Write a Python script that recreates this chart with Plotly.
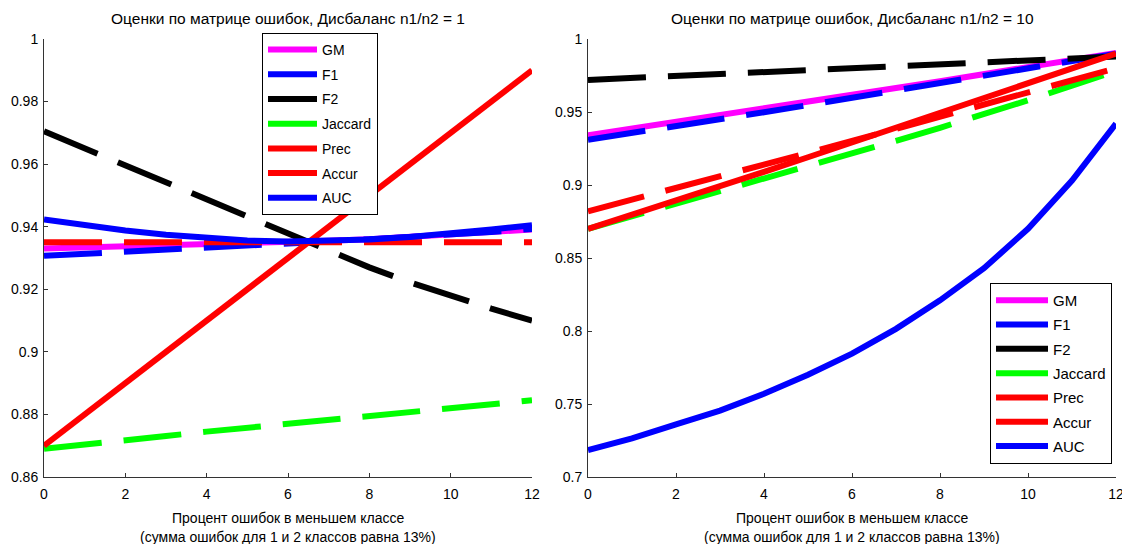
import plotly.graph_objects as go

x = list(range(13))
names = ["GM", "F1", "F2", "Jaccard", "Prec", "Accur", "AUC"]
colors = ["#FF00FF", "#0000FF", "#000000", "#00FF00", "#FF0000", "#FF0000", "#0000FF"]
dashed = [False, True, True, True, False, True, False]

# Left panel: imbalance n1/n2 = 1
left_gm = [0.9330, 0.9333, 0.9337, 0.9340, 0.9343, 0.9347, 0.9350, 0.9355, 0.9360, 0.9367, 0.9374, 0.9382, 0.9391]
left_f1 = [0.9307, 0.9313, 0.9320, 0.9327, 0.9333, 0.9340, 0.9347, 0.9353, 0.9360, 0.9367, 0.9375, 0.9383, 0.9393]
left_f2 = [0.9705, 0.9650, 0.9595, 0.9540, 0.9485, 0.9430, 0.9375, 0.9320, 0.9270, 0.9222, 0.9178, 0.9138, 0.9100]
left_jac = [0.8690, 0.8705, 0.8718, 0.8731, 0.8745, 0.8758, 0.8771, 0.8784, 0.8797, 0.8810, 0.8822, 0.8834, 0.8845]
left_prec = [0.870, 0.880, 0.890, 0.900, 0.910, 0.920, 0.930, 0.940, 0.950, 0.960, 0.970, 0.980, 0.990]
left_acc = [0.935] * 13
left_auc = [0.9423, 0.9405, 0.9388, 0.9374, 0.9363, 0.9356, 0.9353, 0.9354, 0.9359, 0.9367, 0.9378, 0.9391, 0.9405]

# Right panel: imbalance n1/n2 = 10
right_gm = [0.9340, 0.9385, 0.9430, 0.9478, 0.9524, 0.9570, 0.9617, 0.9664, 0.9711, 0.9759, 0.9808, 0.9857, 0.9905]
right_f1 = [0.9310, 0.9355, 0.9402, 0.9450, 0.9498, 0.9547, 0.9597, 0.9647, 0.9698, 0.9749, 0.9800, 0.9850, 0.9900]
right_f2 = [0.9720, 0.9733, 0.9746, 0.9758, 0.9770, 0.9782, 0.9795, 0.9808, 0.9821, 0.9835, 0.9850, 0.9865, 0.9880]
right_jac = [0.8700, 0.8785, 0.8870, 0.8955, 0.9040, 0.9128, 0.9215, 0.9303, 0.9392, 0.9482, 0.9580, 0.9680, 0.9780]
right_prec = [0.8700, 0.8795, 0.8892, 0.8990, 0.9090, 0.9190, 0.9290, 0.9392, 0.9495, 0.9598, 0.9700, 0.9800, 0.9900]
right_acc = [0.8820, 0.8898, 0.8977, 0.9057, 0.9138, 0.9220, 0.9302, 0.9385, 0.9467, 0.9550, 0.9634, 0.9717, 0.9800]
right_auc = [0.7185, 0.7265, 0.7360, 0.7455, 0.7570, 0.7700, 0.7845, 0.8015, 0.8210, 0.8430, 0.8700, 0.9030, 0.9420]

left_series = [left_gm, left_f1, left_f2, left_jac, left_prec, left_acc, left_auc]
right_series = [right_gm, right_f1, right_f2, right_jac, right_prec, right_acc, right_auc]

left_ticks = [0.86, 0.88, 0.90, 0.92, 0.94, 0.96, 0.98, 1.0]
left_ticktext = ["0.86", "0.88", "0.9", "0.92", "0.94", "0.96", "0.98", "1"]
right_ticks = [0.70, 0.75, 0.80, 0.85, 0.90, 0.95, 1.0]
right_ticktext = ["0.7", "0.75", "0.8", "0.85", "0.9", "0.95", "1"]
x_ticks = [0, 2, 4, 6, 8, 10, 12]

title_left = "Оценки по матрице ошибок, Дисбаланс n1/n2 = 1"
title_right = "Оценки по матрице ошибок, Дисбаланс n1/n2 = 10"
xlabel1 = "Процент ошибок в меньшем классе"
xlabel2 = "(сумма ошибок для 1 и 2 классов равна 13%)"

FONT = "Liberation Sans, Arial, sans-serif"
DASH = "58px,22px"
LW = 6

# page body has an 8px margin: figure is placed at (8, 8) in the window
OFF = 8
W, H = 1130 - OFF, 544 - OFF


def px(v):
    return (v - OFF) / W


def py(v):
    return 1 - (v - OFF) / H


fig = go.Figure()

for series, xa, ya, leg in [(left_series, "x", "y", "legend"), (right_series, "x2", "y2", "legend2")]:
    for name, col, d, ys in zip(names, colors, dashed, series):
        fig.add_trace(go.Scatter(x=x, y=ys, mode="lines", xaxis=xa, yaxis=ya,
                                 line=dict(color=col, width=LW, dash=DASH if d else "solid"),
                                 showlegend=False, hoverinfo="skip"))
    for i, (name, col) in enumerate(zip(names, colors)):
        fig.add_trace(go.Scatter(x=[None], y=[None], mode="lines", xaxis=xa, yaxis=ya,
                                 name=name, legend=leg, legendgroup=leg + str(i),
                                 line=dict(color=col, width=LW), showlegend=True))

axis_common = dict(showgrid=False, zeroline=False, showline=True, linecolor="#333333", linewidth=1,
                   ticks="inside", ticklen=4, tickcolor="#333333", mirror=False, automargin=False,
                   tickfont=dict(family=FONT, size=14, color="#000000"))

legend_common = dict(bgcolor="white", bordercolor="#000000", borderwidth=1,
                     traceorder="grouped", xanchor="left", yanchor="top")

fig.update_layout(
    width=W, height=H,
    margin=dict(l=0, r=0, t=0, b=0, autoexpand=False),
    paper_bgcolor="white", plot_bgcolor="white",
    xaxis=dict(domain=[px(44), px(532)], range=[0, 12], tickvals=x_ticks, anchor="y",
               ticklabelstandoff=4, **axis_common),
    yaxis=dict(domain=[py(477), py(39)], range=[0.86, 1.0], tickvals=left_ticks,
               ticktext=left_ticktext, anchor="x", ticklabelstandoff=2, **axis_common),
    xaxis2=dict(domain=[px(588), px(1116)], range=[0, 12], tickvals=x_ticks, anchor="y2",
                ticklabelstandoff=4, **axis_common),
    yaxis2=dict(domain=[py(477), py(39)], range=[0.70, 1.0], tickvals=right_ticks,
                ticktext=right_ticktext, anchor="x2", ticklabelstandoff=2, **axis_common),
    legend=dict(x=px(262), y=py(33), itemwidth=49, tracegroupgap=3.5,
                font=dict(family=FONT, size=14, color="#000000"), **legend_common),
    legend2=dict(x=px(990), y=py(283), itemwidth=52, tracegroupgap=1.8,
                 font=dict(family=FONT, size=15, color="#000000"), **legend_common),
    showlegend=True,
)

ann_font = dict(family=FONT, size=15.5, color="#000000")
lab_font = dict(family=FONT, size=14, color="#000000")
fig.add_annotation(text=title_left, x=px(288), y=py(18), xref="paper", yref="paper",
                   showarrow=False, font=ann_font, xanchor="center", yanchor="middle")
fig.add_annotation(text=title_right, x=px(852), y=py(18), xref="paper", yref="paper",
                   showarrow=False, font=ann_font, xanchor="center", yanchor="middle")
for cx in (288, 852):
    fig.add_annotation(text=xlabel1, x=px(cx), y=py(518), xref="paper", yref="paper",
                       showarrow=False, font=lab_font, xanchor="center", yanchor="middle")
    fig.add_annotation(text=xlabel2, x=px(cx), y=py(537), xref="paper", yref="paper",
                       showarrow=False, font=lab_font, xanchor="center", yanchor="middle")

fig.write_html("out.html")
